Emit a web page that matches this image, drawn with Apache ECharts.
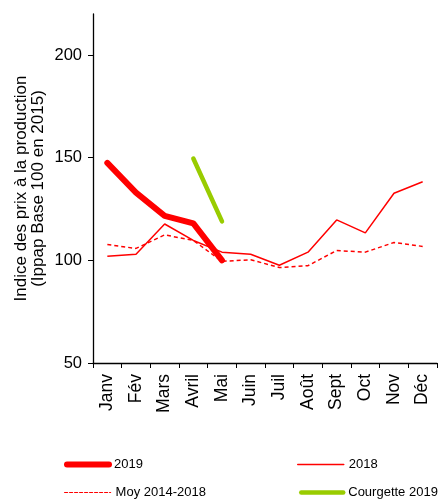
<!DOCTYPE html>
<html><head><meta charset="utf-8">
<script src="https://cdn.jsdelivr.net/npm/echarts@6/dist/echarts.min.js"></script>
<style>html,body{margin:0;padding:0;background:#fff}#c{width:440px;height:504px}</style>
</head><body><div id="c"></div>
<script>
const months = ['Janv','Fév','Mars','Avril','Mai','Juin','Juil','Août','Sept','Oct','Nov','Déc'];
const y2019 = [147.5, 133, 121.7, 118, 100, null, null, null, null, null, null, null];
const y2018 = [102, 103, 117.7, 109.7, 104, 103, 97.6, 104, 119.7, 113.4, 132.7, 138.3];
const moy = [107.7, 105.8, 112.4, 109.7, 99.5, 100.3, 96.5, 97.4, 104.8, 104, 108.7, 106.8];
const courgette = [null, null, null, 149.6, 119, null, null, null, null, null, null, null];
const yTicks = [50, 100, 150, 200];

const reg = "'Liberation Sans',Arial,sans-serif";
const chart = echarts.init(document.getElementById('c'), null, {renderer:'canvas'});
function leg(name, left, top, lw, dash, iw){
  return {data:[name], left:left, top:top, padding:0, orient:'horizontal', itemWidth:iw||46, itemHeight:10, itemGap:0,
    itemStyle:{opacity:0, borderWidth:0},
    lineStyle:{width:lw, type:dash||'solid', cap:'round'},
    textStyle:{fontFamily:reg, fontSize:13, color:'#000', padding:[0,0,0,0]}, selectedMode:false};
}
chart.setOption({
  animation:false,
  grid:{left:93, top:14, right:3, bottom:141, containLabel:false, outerBoundsMode:'none'},
  legend:[leg('2019',64,458,6,null,42), leg('2018',297,458,1.5), leg('Moy 2014-2018',64,486,1.2,[3,2]), leg('Courgette 2019',299,486,4.5,null,42)],
  xAxis:{type:'category', data:months, boundaryGap:true,
    axisLine:{lineStyle:{color:'#000', width:1.3}},
    axisTick:{show:true, inside:false, length:5, lineStyle:{color:'#000'}},
    axisLabel:{rotate:90, fontFamily:reg, fontSize:17.5, color:'#000', margin:11}},
  yAxis:{type:'value', min:50, max:220, interval:50,
    name:'Indice des prix à la production\n(Ippap Base 100 en 2015)', nameLocation:'middle', nameRotate:90, nameGap:46,
    nameMoveOverlap:false,
    nameTextStyle:{fontFamily:reg, fontSize:17, color:'#000', lineHeight:17},
    axisLine:{show:true, lineStyle:{color:'#000', width:1.3}},
    axisTick:{show:true, length:5, lineStyle:{color:'#000'}, customValues:yTicks},
    axisLabel:{fontFamily:reg, fontSize:16.5, color:'#000', margin:11, customValues:yTicks},
    splitLine:{show:false}},
  series:[
    {name:'2018', type:'line', data:y2018, symbol:'none', lineStyle:{color:'#ff0000', width:1.5}, itemStyle:{color:'#ff0000'}, z:2},
    {name:'Moy 2014-2018', type:'line', data:moy, symbol:'none', lineStyle:{color:'#ff0000', width:1.5, type:[4,3]}, itemStyle:{color:'#ff0000'}, z:2},
    {name:'Courgette 2019', type:'line', data:courgette, symbol:'none', lineStyle:{color:'#99cc00', width:4.5, cap:'round'}, itemStyle:{color:'#99cc00'}, z:3},
    {name:'2019', type:'line', data:y2019, symbol:'none', lineStyle:{color:'#ff0000', width:6, cap:'round', join:'round'}, itemStyle:{color:'#ff0000'}, z:4}
  ]
});
</script></body></html>
